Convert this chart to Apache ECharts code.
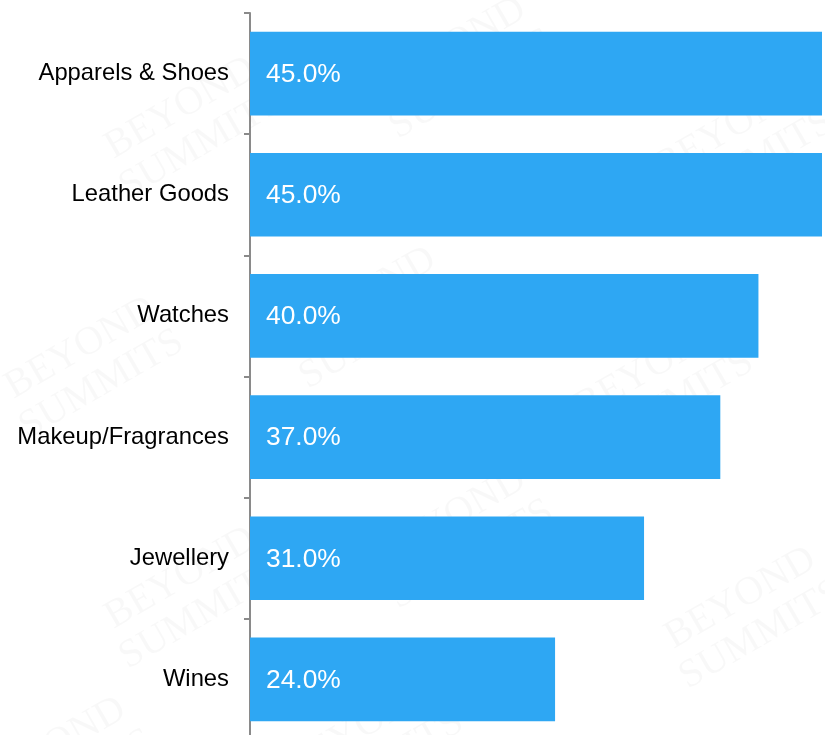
<!DOCTYPE html>
<html>
<head>
<meta charset="utf-8">
<script src="https://cdn.jsdelivr.net/npm/echarts@6/dist/echarts.min.js"></script>
<style>
  html, body { margin: 0; padding: 0; background: #ffffff; }
  #chart { width: 825px; height: 735px; }
</style>
</head>
<body>
<div id="chart"></div>
<script>
// Product categories, listed top to bottom
const categories = ['Apparels & Shoes', 'Leather Goods', 'Watches', 'Makeup/Fragrances', 'Jewellery', 'Wines'];
// Share per category (%)
const shares = [45.0, 45.0, 40.0, 37.0, 31.0, 24.0];

const chart = echarts.init(document.getElementById('chart'), null, { renderer: 'canvas' });

// Faint brand watermark tiled across the background
const watermarkSpots = [
  [170, 90], [440, 30], [720, 110], [70, 330], [350, 280], [640, 350],
  [170, 560], [440, 500], [730, 580], [350, 710], [40, 730]
];
const watermark = watermarkSpots.map(p => ({
  type: 'text',
  x: p[0], y: p[1],
  rotation: Math.PI / 6,
  z: -10,
  silent: true,
  style: {
    text: 'BEYOND\nSUMMITS',
    font: '40px "Liberation Serif", serif',
    fill: 'rgba(0,0,0,0.028)',
    lineHeight: 42,
    align: 'center'
  }
}));

chart.setOption({
  animation: false,
  backgroundColor: '#ffffff',
  graphic: watermark,
  // plot area runs a little past the bottom edge of the canvas
  grid: {
    left: 250, width: 572, top: 13, height: 727,
    containLabel: false,
    outerBoundsMode: 'none'
  },
  xAxis: {
    type: 'value',
    min: 0,
    max: 45,
    show: false
  },
  yAxis: {
    type: 'category',
    data: categories,
    inverse: true,
    axisLine: { show: true, lineStyle: { color: '#8a8a8a', width: 2 } },
    axisTick: { show: true, length: 6, lineStyle: { color: '#8a8a8a', width: 2 } },
    axisLabel: {
      margin: 21,
      padding: [3, 0, 0, 0],
      color: '#000000',
      fontFamily: '"Liberation Sans", Arial, sans-serif',
      fontSize: 23.8
    },
    splitLine: { show: false }
  },
  series: [{
    type: 'bar',
    data: shares,
    barCategoryGap: '31%',
    itemStyle: { color: '#2ea7f3' },
    label: {
      show: true,
      position: 'insideLeft',
      distance: 16,
      offset: [0, 1],
      color: '#ffffff',
      fontFamily: '"Liberation Sans", Arial, sans-serif',
      fontSize: 26.4,
      formatter: p => p.value.toFixed(1) + '%'
    }
  }]
});
</script>
</body>
</html>
